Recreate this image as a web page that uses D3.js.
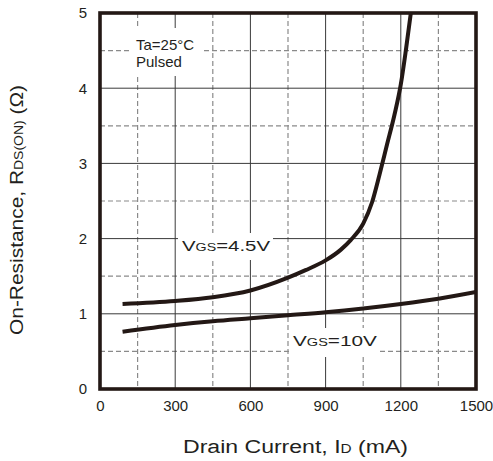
<!DOCTYPE html>
<html>
<head>
<meta charset="utf-8">
<script src="https://cdn.jsdelivr.net/npm/d3@7"></script>
<style>
body { margin:0; background:#fff; }
text { font-family: "Liberation Sans", Arial, sans-serif; fill:#231f20; }
</style>
</head>
<body>
<div id="chart"></div>
<script>
// data
var xTicks = [0, 300, 600, 900, 1200, 1500]
var yTicks = [0, 1, 2, 3, 4, 5]
var xMinor = [150, 450, 750, 1050, 1350]
var yMinor = [0.5, 1.5, 2.5, 3.5, 4.5]

var id45 = [90, 300, 450, 600, 750, 820, 900, 960, 1000, 1050, 1085, 1115, 1145, 1175, 1200, 1220, 1240]
var r45  = [1.13, 1.17, 1.22, 1.31, 1.48, 1.58, 1.71, 1.85, 1.98, 2.2, 2.48, 2.85, 3.25, 3.65, 4.05, 4.5, 5.0]

var id10 = [90, 300, 450, 600, 750, 900, 1050, 1200, 1350, 1500]
var r10  = [0.76, 0.85, 0.90, 0.94, 0.98, 1.02, 1.07, 1.13, 1.20, 1.29]

var W = 493, H = 461
var margin = {top: 13, right: 17, bottom: 72, left: 100},
    width = W - margin.left - margin.right,
    height = H - margin.top - margin.bottom

var ink = "#231815"

var svg = d3.select("#chart").append("svg")
	.attr("width", W).attr("height", H)

var plot = svg.append("g")
	.attr("transform", "translate(" + margin.left + "," + margin.top + ")")

var x = d3.scaleLinear().domain([0, 1500]).range([0, width])
var y = d3.scaleLinear().domain([0, 5]).range([height, 0])

svg.append("defs").append("clipPath").attr("id", "clip")
	.append("rect").attr("width", width).attr("height", height)

// dashed minor grid
plot.selectAll(".vminor").data(xMinor).enter().append("line")
	.attr("x1", d => x(d)).attr("x2", d => x(d))
	.attr("y1", 0).attr("y2", height)
	.style("stroke", "#8a8a8a").style("stroke-width", 1.2).style("stroke-dasharray", "5,3")
plot.selectAll(".hminor").data(yMinor).enter().append("line")
	.attr("y1", d => y(d)).attr("y2", d => y(d))
	.attr("x1", 0).attr("x2", width)
	.style("stroke", "#8a8a8a").style("stroke-width", 1.2).style("stroke-dasharray", "5,3")

// solid major grid
plot.selectAll(".vmajor").data(xTicks.slice(1, -1)).enter().append("line")
	.attr("x1", d => x(d)).attr("x2", d => x(d))
	.attr("y1", 0).attr("y2", height)
	.style("stroke", "#3a3a3a").style("stroke-width", 1)
plot.selectAll(".hmajor").data(yTicks.slice(1, -1)).enter().append("line")
	.attr("y1", d => y(d)).attr("y2", d => y(d))
	.attr("x1", 0).attr("x2", width)
	.style("stroke", "#3a3a3a").style("stroke-width", 1)

// white boxes behind the labels
var boxes = [[132, 28, 204, 76], [178, 233, 273, 260], [290, 328, 377, 357]]
svg.selectAll(".lbox").data(boxes).enter().append("rect")
	.attr("x", d => d[0]).attr("y", d => d[1])
	.attr("width", d => d[2] - d[0]).attr("height", d => d[3] - d[1])
	.style("fill", "#fff")

// curves
var line = d3.line().curve(d3.curveMonotoneX)
	.x(d => x(d[0])).y(d => y(d[1]))

var curves = plot.append("g").attr("clip-path", "url(#clip)")
curves.append("path").datum(d3.zip(id45, r45)).attr("d", line)
	.style("fill", "none").style("stroke", ink).style("stroke-width", 4)
curves.append("path").datum(d3.zip(id10, r10)).attr("d", line)
	.style("fill", "none").style("stroke", ink).style("stroke-width", 4)

// frame
plot.append("rect").attr("width", width).attr("height", height)
	.style("fill", "none").style("stroke", ink).style("stroke-width", 3.6)

// tick labels
var xa = plot.append("g").attr("transform", "translate(0," + height + ")")
	.call(d3.axisBottom(x).tickValues(xTicks).tickFormat(d3.format("d")).tickSize(0).tickPadding(11))
xa.select(".domain").remove()
xa.selectAll("text").style("font-size", "15px").style("fill", "#231f20")
	.style("font-family", "Liberation Sans, Arial, sans-serif")

var ya = plot.append("g")
	.call(d3.axisLeft(y).tickValues(yTicks).tickFormat(d3.format("d")).tickSize(0).tickPadding(13))
ya.select(".domain").remove()
ya.selectAll("text").style("font-size", "15px").style("fill", "#231f20")
	.style("font-family", "Liberation Sans, Arial, sans-serif")

// annotations
var ta = svg.append("text").attr("x", 136).attr("y", 50).style("font-size", "15px")
ta.append("tspan").text("Ta=25°C")
ta.append("tspan").attr("x", 136).attr("dy", 17).text("Pulsed")

function vgs(xp, yp, val, len) {
	var t = svg.append("text").attr("x", xp).attr("y", yp).style("font-size", "15px")
		.attr("textLength", len).attr("lengthAdjust", "spacingAndGlyphs")
	t.append("tspan").text("V")
	t.append("tspan").style("font-size", "10.5px").text("GS")
	t.append("tspan").text("=" + val)
}
vgs(182, 251, "4.5V", 88)
vgs(293, 346, "10V", 84)

// axis titles
var xt = svg.append("text").attr("x", 183).attr("y", 453).style("font-size", "18px")
	.attr("textLength", 225).attr("lengthAdjust", "spacingAndGlyphs")
xt.append("tspan").text("Drain Current, I")
xt.append("tspan").style("font-size", "12px").text("D")
xt.append("tspan").text(" (mA)")

var yt = svg.append("text")
	.attr("transform", "translate(23,335) rotate(-90)")
	.style("font-size", "18px")
	.attr("textLength", 250).attr("lengthAdjust", "spacingAndGlyphs")
yt.append("tspan").text("On-Resistance, R")
yt.append("tspan").style("font-size", "12px").text("DS(ON)")
yt.append("tspan").text(" (Ω)")
</script>
</body>
</html>
